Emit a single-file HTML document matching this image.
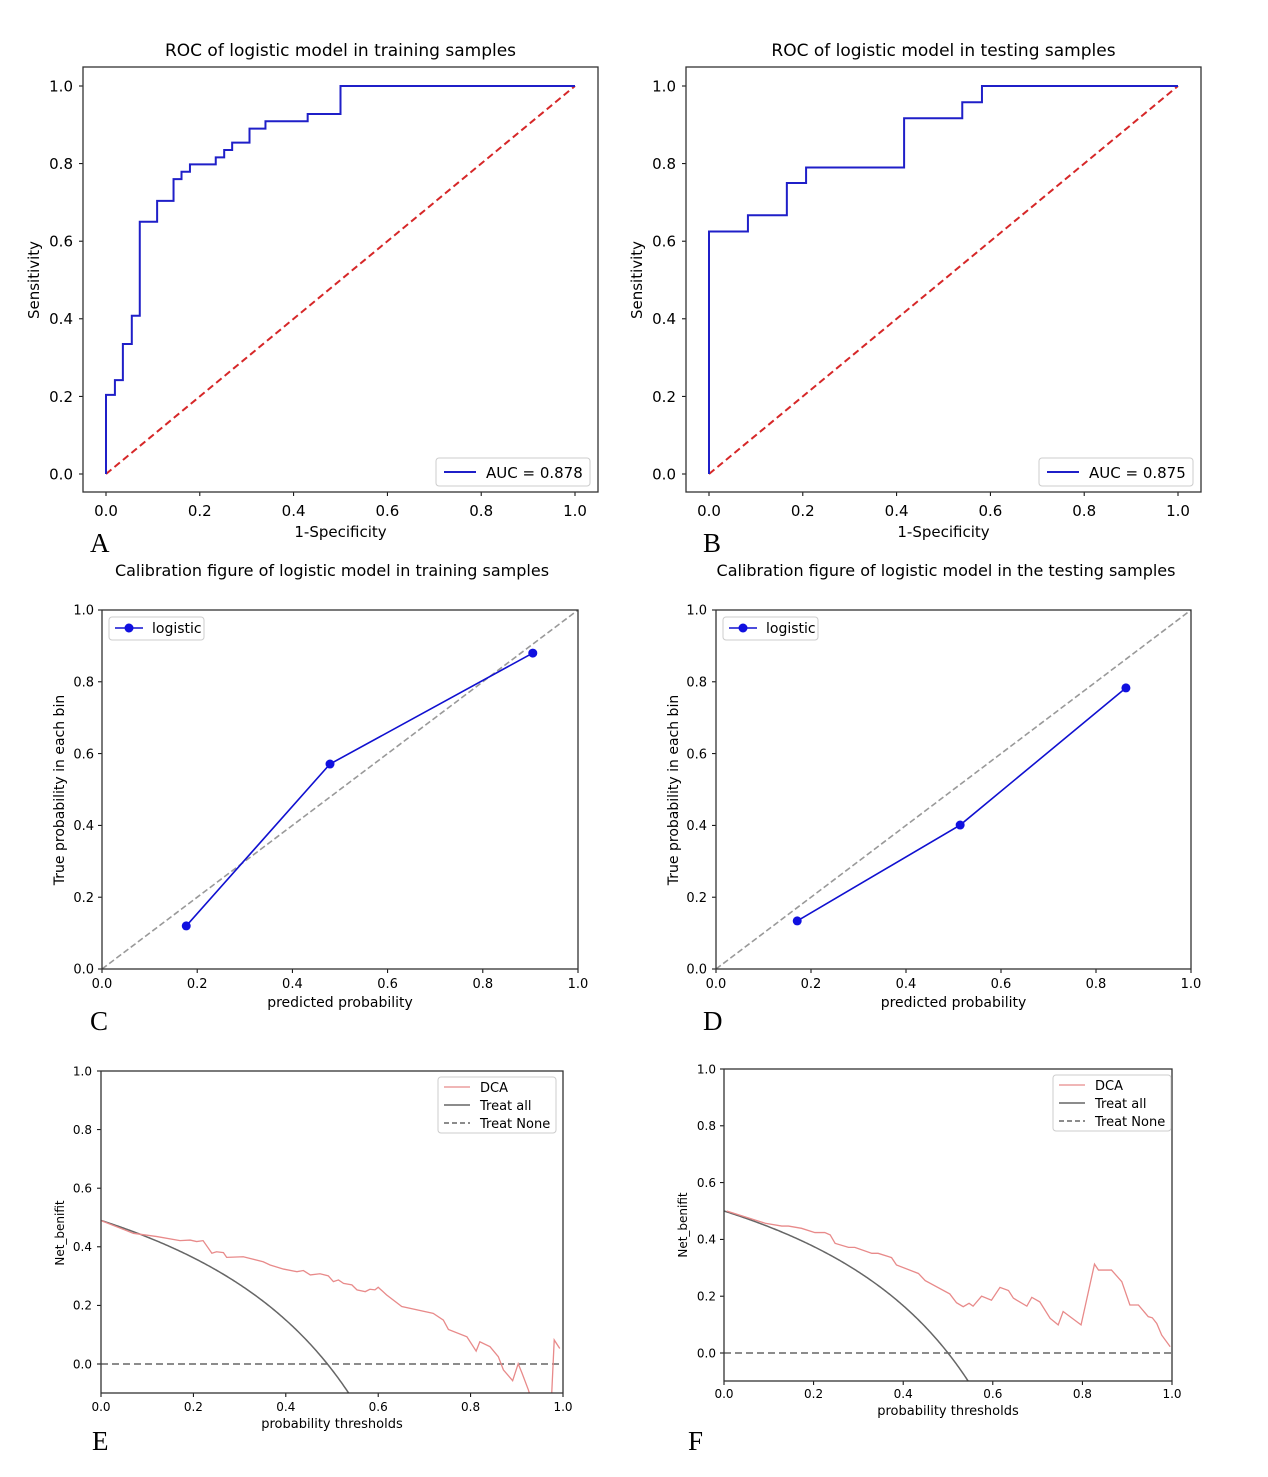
<!DOCTYPE html>
<html><head><meta charset="utf-8"><style>
html,body{margin:0;padding:0;background:#fff;width:1268px;height:1477px;overflow:hidden;}
svg{display:block;font-family:"DejaVu Sans","Liberation Sans",sans-serif;}
</style></head><body>
<svg id="fig" width="1268" height="1477" viewBox="0 0 1268 1477"></svg>
<script>
// ---------- DATA ----------
const rocTrainFpr=[0,0,0.019,0.019,0.036,0.036,0.055,0.055,0.072,0.072,0.109,0.109,0.144,0.144,0.161,0.161,0.179,0.179,0.234,0.234,0.252,0.252,0.269,0.269,0.306,0.306,0.34,0.34,0.43,0.43,0.50,0.50,1.0];
const rocTrainTpr=[0,0.204,0.204,0.242,0.242,0.335,0.335,0.408,0.408,0.65,0.65,0.704,0.704,0.76,0.76,0.779,0.779,0.798,0.798,0.816,0.816,0.835,0.835,0.854,0.854,0.89,0.89,0.909,0.909,0.928,0.928,1.0,1.0];
const rocTestFpr=[0,0,0.083,0.083,0.166,0.166,0.207,0.207,0.416,0.416,0.54,0.54,0.582,0.582,1.0];
const rocTestTpr=[0,0.625,0.625,0.667,0.667,0.75,0.75,0.79,0.79,0.917,0.917,0.958,0.958,1.0,1.0];
const aucTrain="0.878", aucTest="0.875";
const calTrainPred=[0.177,0.479,0.905], calTrainTrue=[0.12,0.571,0.88];
const calTestPred=[0.171,0.514,0.863], calTestTrue=[0.134,0.401,0.783];
const dcaTrainX=[0.001,0.07,0.121,0.171,0.193,0.207,0.221,0.24,0.25,0.265,0.272,0.308,0.351,0.366,0.395,0.424,0.438,0.453,0.474,0.492,0.503,0.514,0.525,0.543,0.554,0.572,0.582,0.593,0.6,0.618,0.651,0.719,0.741,0.752,0.792,0.812,0.82,0.842,0.86,0.871,0.891,0.903,0.911,0.925,0.935,0.95,0.975,0.981,0.993];
const dcaTrainY=[0.489,0.446,0.435,0.421,0.423,0.418,0.421,0.378,0.383,0.38,0.364,0.366,0.349,0.338,0.324,0.315,0.319,0.304,0.308,0.301,0.281,0.287,0.275,0.27,0.253,0.247,0.255,0.253,0.262,0.236,0.196,0.173,0.15,0.118,0.093,0.044,0.076,0.059,0.025,-0.02,-0.057,0.001,-0.03,-0.088,-0.14,-0.15,-0.12,0.082,0.053];
const dcaTestX=[0.006,0.092,0.129,0.144,0.173,0.203,0.225,0.237,0.248,0.278,0.292,0.33,0.344,0.374,0.385,0.434,0.449,0.504,0.519,0.534,0.547,0.556,0.575,0.597,0.616,0.635,0.646,0.676,0.687,0.705,0.728,0.746,0.757,0.797,0.827,0.836,0.865,0.888,0.906,0.925,0.947,0.956,0.966,0.977,0.996];
const dcaTestY=[0.5,0.457,0.447,0.447,0.439,0.424,0.424,0.416,0.386,0.372,0.372,0.351,0.351,0.336,0.31,0.28,0.255,0.208,0.177,0.163,0.175,0.165,0.2,0.186,0.231,0.22,0.193,0.165,0.196,0.18,0.122,0.099,0.146,0.099,0.313,0.292,0.292,0.251,0.169,0.169,0.128,0.124,0.104,0.063,0.022];
const prevTrain=0.49, prevTest=0.5;
const ticks01=[0,0.2,0.4,0.6,0.8,1.0];
const tickLabels01=["0.0","0.2","0.4","0.6","0.8","1.0"];

// ---------- DRAWING ----------
const NS="http://www.w3.org/2000/svg";
const svg=document.getElementById('fig');
function el(tag,attrs,parent){const e=document.createElementNS(NS,tag);for(const k in attrs)e.setAttribute(k,attrs[k]);(parent||svg).appendChild(e);return e;}
function txt(s,x,y,size,anchor,parent,extra){const t=el('text',Object.assign({x:x,y:y,'font-size':size,'text-anchor':anchor||'middle',fill:'#000'},extra||{}),parent);t.textContent=s;return t;}

function axes(p){
  const g=el('g',{});
  
  
  const sx=v=>p.x0+(v-p.xmin)/(p.xmax-p.xmin)*(p.x1-p.x0);
  const sy=v=>p.y0-(v-p.ymin)/(p.ymax-p.ymin)*(p.y0-p.y1);
  ticks01.forEach((v,i)=>{
    const x=sx(v);
    el('line',{x1:x,x2:x,y1:p.by1,y2:p.by1+4,stroke:'#000','stroke-width':1},g);
    const t=txt(tickLabels01[i],x,p.xtY,p.fs,'middle',g);
    
    
    const y=sy(v);
    el('line',{x1:p.bx0-4,x2:p.bx0,y1:y,y2:y,stroke:'#000','stroke-width':1},g);
    const t2=txt(tickLabels01[i],p.ytX,y+p.fs*0.36,p.fs,'end',g);
    
    
  });
  const cid='c'+p.name;
  const cp=el('clipPath',{id:cid},g);
  el('rect',{x:p.bx0,y:p.by0,width:p.bx1-p.bx0,height:p.by1-p.by0},cp);
  const plot=el('g',{'clip-path':'url(#'+cid+')'},g);
  return {g,plot,sx,sy};
}
function frame(p,g){const r=el('rect',{x:p.bx0,y:p.by0,width:p.bx1-p.bx0,height:p.by1-p.by0,fill:'none',stroke:'#333','stroke-width':1.3},g);}
function pathFrom(xs,ys,sx,sy){return xs.map((x,i)=>(i?'L':'M')+sx(x).toFixed(2)+' '+sy(ys[i]).toFixed(2)).join(' ');}

function roc(p,fpr,tpr,auc){
  const a=axes(p);
  const d=el('line',{x1:a.sx(0),y1:a.sy(0),x2:a.sx(1),y2:a.sy(1),stroke:'#d62728','stroke-width':2,'stroke-dasharray':'7,4'},a.plot);
  
  
  const c=el('path',{d:pathFrom(fpr,tpr,a.sx,a.sy),fill:'none',stroke:'#1f1fc8','stroke-width':2},a.plot);
  
  
  frame(p,a.g);
  const lg=el('g',{},a.g);
  
  
  el('rect',{x:p.bx1-162,y:p.by1-34,width:154,height:28,fill:'#fff',stroke:'#ccc',rx:3},lg);
  el('line',{x1:p.bx1-154,x2:p.bx1-122,y1:p.by1-20,y2:p.by1-20,stroke:'#1f1fc8','stroke-width':2},lg);
  txt('AUC = '+auc,p.bx1-112,p.by1-14,15,'start',lg);
  const t=txt(p.title,(p.bx0+p.bx1)/2,56,17,'middle',a.g);
  const xl=txt('1-Specificity',(p.bx0+p.bx1)/2,537,15,'middle',a.g);
  const yl=txt('Sensitivity',0,0,15,'middle',a.g,{transform:'translate('+(p.bx0-44)+',280) rotate(-90)'});
}
const common={xmin:0,xmax:1,ymin:0,ymax:1};
roc(Object.assign({name:'roc-train',x0:106,x1:575,y0:474,y1:86,bx0:83,bx1:598,by0:67,by1:492,xtY:516,ytX:73,fs:15,title:'ROC of logistic model in training samples'},common),rocTrainFpr,rocTrainTpr,aucTrain);
roc(Object.assign({name:'roc-test',x0:709,x1:1178,y0:474,y1:86,bx0:686,bx1:1201,by0:67,by1:492,xtY:516,ytX:676,fs:15,title:'ROC of logistic model in testing samples'},common),rocTestFpr,rocTestTpr,aucTest);

function cal(p,xs,ys){
  const a=axes(p);
  const d=el('line',{x1:a.sx(0),y1:a.sy(0),x2:a.sx(1),y2:a.sy(1),stroke:'#999','stroke-width':1.6,'stroke-dasharray':'6,3'},a.plot);
  
  
  const c=el('path',{d:pathFrom(xs,ys,a.sx,a.sy),fill:'none',stroke:'#1010d0','stroke-width':1.6},a.plot);
  
  
  xs.forEach((x,i)=>{const m=el('circle',{cx:a.sx(x),cy:a.sy(ys[i]),r:4.5,fill:'#1010e0'},a.plot);
    
    });
  frame(p,a.g);
  const lg=el('g',{},a.g);
  
  
  el('rect',{x:p.bx0+7,y:p.by0+7,width:95,height:23,fill:'#fff',stroke:'#ccc',rx:3},lg);
  el('line',{x1:p.bx0+13,x2:p.bx0+41,y1:p.by0+18,y2:p.by0+18,stroke:'#1010d0','stroke-width':1.6},lg);
  el('circle',{cx:p.bx0+27,cy:p.by0+18,r:4.5,fill:'#1010e0'},lg);
  txt('logistic',p.bx0+50,p.by0+23,14,'start',lg);
  const t=txt(p.title,p.tx,576,16,'middle',a.g);
  const xl=txt('predicted probability',(p.bx0+p.bx1)/2,1007,14,'middle',a.g);
  const yl=txt('True probability in each bin',0,0,14,'middle',a.g,{transform:'translate('+(p.bx0-38)+',790) rotate(-90)'});
}
cal(Object.assign({name:'calibration-train',x0:102,x1:578,y0:969,y1:610,bx0:102,bx1:578,by0:610,by1:969,xtY:988,ytX:94,fs:13,tx:332,title:'Calibration figure of logistic model in training samples'},common),calTrainPred,calTrainTrue);
cal(Object.assign({name:'calibration-test',x0:716,x1:1191,y0:969,y1:610,bx0:716,bx1:1191,by0:610,by1:969,xtY:988,ytX:707,fs:13,tx:946,title:'Calibration figure of logistic model in the testing samples'},common),calTestPred,calTestTrue);

function dca(p,xs,ys,prev){
  const a=axes(p);
  const z=el('line',{x1:p.bx0,x2:p.bx1,y1:a.sy(0),y2:a.sy(0),stroke:'#666','stroke-width':1.5,'stroke-dasharray':'7,4'},a.plot);
  
  
  const tmax=(prev+0.1)/1.1;
  const tx=[],ty=[];
  for(let i=0;i<=200;i++){const t=i/200*tmax;tx.push(t);ty.push(prev-(1-prev)*t/(1-t));}
  const ta=el('path',{d:pathFrom(tx,ty,a.sx,a.sy),fill:'none',stroke:'#666','stroke-width':1.5},a.plot);
  
  
  const c=el('path',{d:pathFrom(xs,ys,a.sx,a.sy),fill:'none',stroke:'#e88a8a','stroke-width':1.3},a.plot);
  
  
  frame(p,a.g);
  const lg=el('g',{},a.g);
  
  
  const lx=p.lx,ly=p.by0+6;
  el('rect',{x:lx,y:ly,width:118,height:56,fill:'#fff',stroke:'#ccc',rx:3},lg);
  el('line',{x1:lx+6,x2:lx+32,y1:ly+10,y2:ly+10,stroke:'#e88a8a','stroke-width':1.3},lg);
  el('line',{x1:lx+6,x2:lx+32,y1:ly+28,y2:ly+28,stroke:'#666','stroke-width':1.5},lg);
  el('line',{x1:lx+6,x2:lx+32,y1:ly+46,y2:ly+46,stroke:'#666','stroke-width':1.5,'stroke-dasharray':'5,3'},lg);
  txt('DCA',lx+42,ly+15,13,'start',lg);
  txt('Treat all',lx+42,ly+33,13,'start',lg);
  txt('Treat None',lx+42,ly+51,13,'start',lg);
  const xl=txt('probability thresholds',(p.bx0+p.bx1)/2,p.xlY,13,'middle',a.g);
  const yl=txt('Net_benifit',0,0,12,'middle',a.g,{transform:'translate('+(p.bx0-37)+','+p.ylY+') rotate(-90)'});
}
dca({name:'dca-train',xmin:0,xmax:1,ymin:0,ymax:1,x0:101,x1:563,y0:1364,y1:1071,bx0:101,bx1:563,by0:1071,by1:1393,xtY:1411,ytX:92,fs:12,lx:438,xlY:1428,ylY:1233},dcaTrainX,dcaTrainY,prevTrain);
dca({name:'dca-test',xmin:0,xmax:1,ymin:0,ymax:1,x0:724,x1:1172,y0:1353,y1:1069,bx0:724,bx1:1172,by0:1069,by1:1381,xtY:1398,ytX:716,fs:12,lx:1053,xlY:1415,ylY:1225},dcaTestX,dcaTestY,prevTest);

[['A',90,552],['B',703,552],['C',90,1030],['D',703,1030],['E',92,1450],['F',688,1450]].forEach(l=>{
  const t=txt(l[0],l[1],l[2],27,'start',svg,{'font-family':'"Liberation Serif",serif'});
  
  
});
</script>
</body></html>
